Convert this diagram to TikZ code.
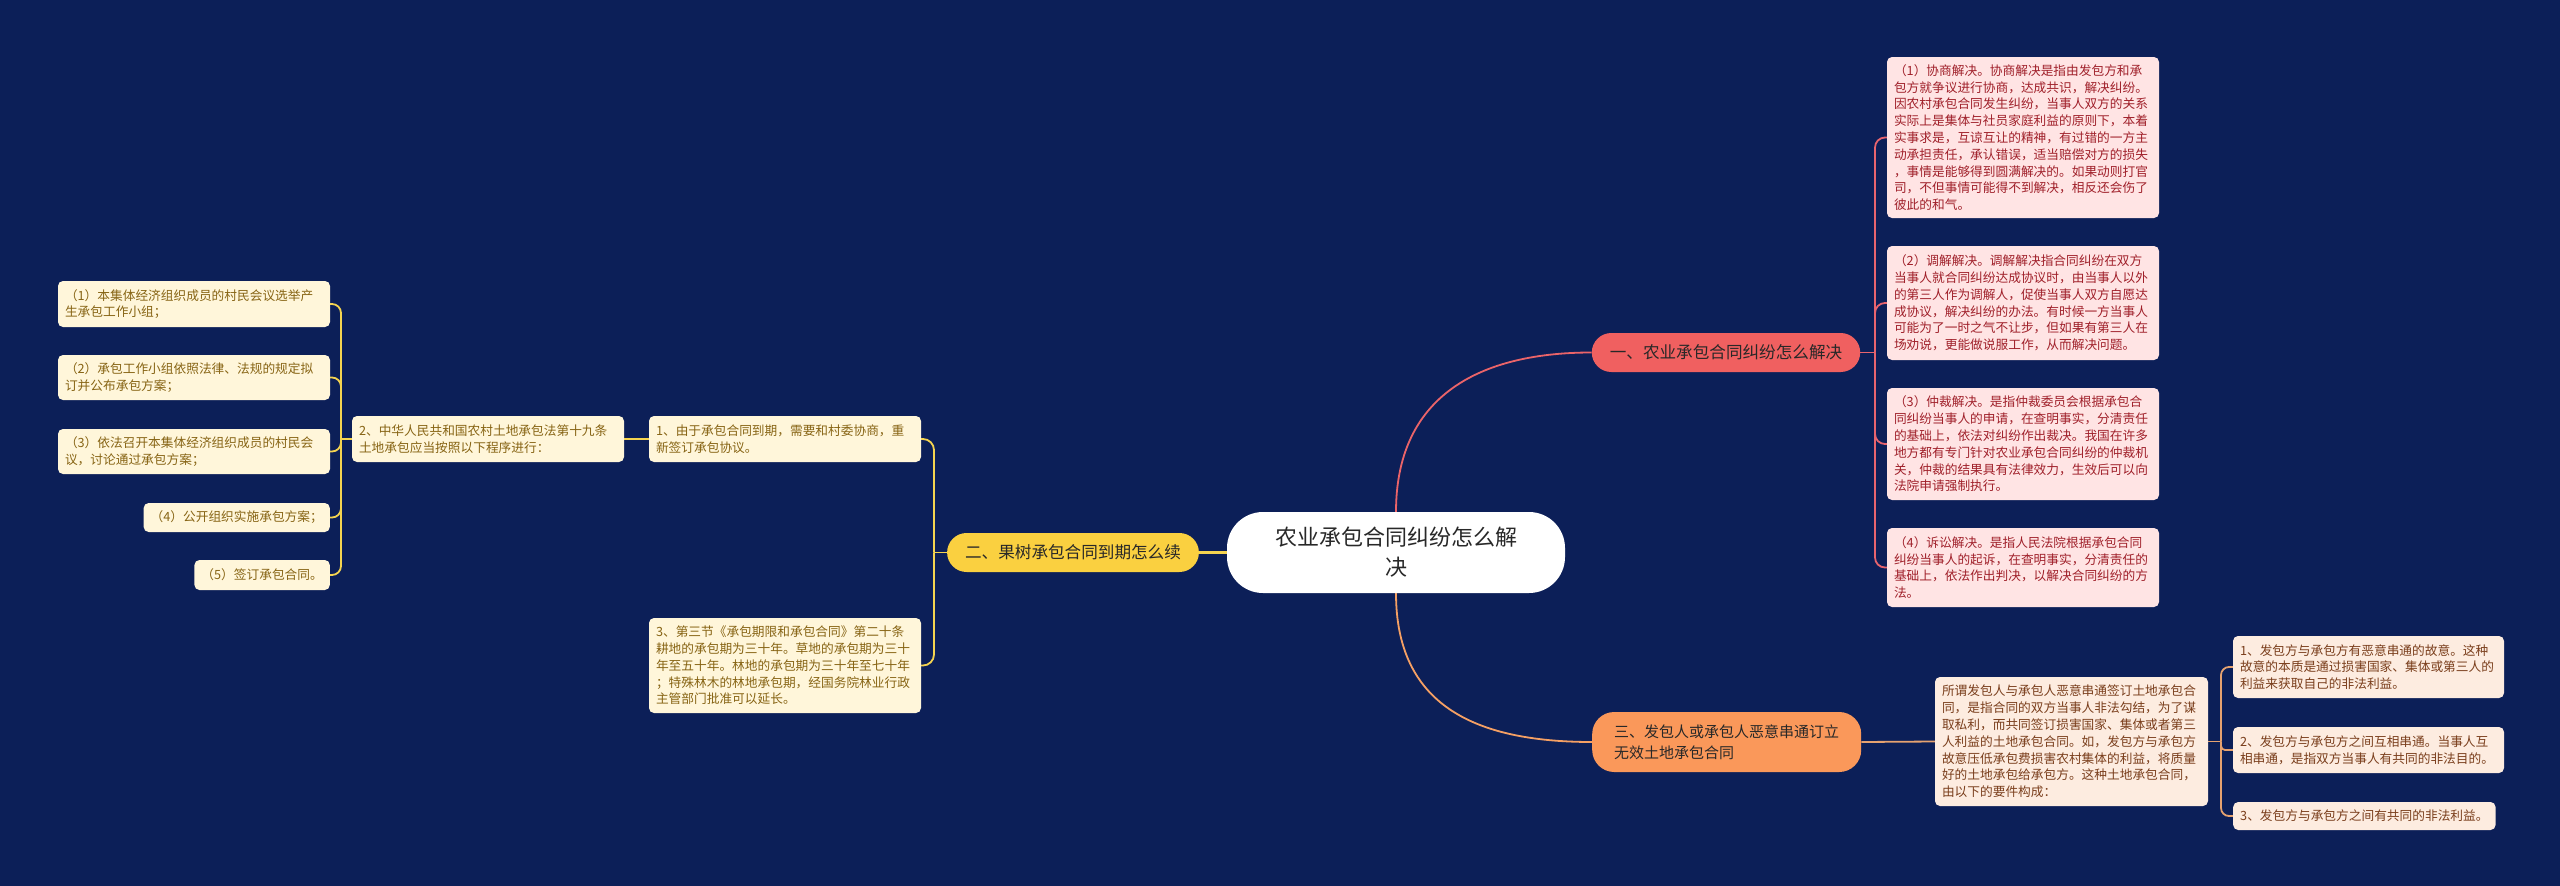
\documentclass[tikz,border=0pt]{standalone}
\usepackage{fontspec}
\setmainfont{Noto Sans CJK SC}
\usetikzlibrary{backgrounds}
\definecolor{bgc}{RGB}{12,31,88}
\definecolor{pinkf}{RGB}{255,228,228}
\definecolor{pinkt}{RGB}{160,32,42}
\definecolor{pinkl}{RGB}{232,100,110}
\definecolor{peachf}{RGB}{253,236,224}
\definecolor{peacht}{RGB}{122,62,28}
\definecolor{peachl}{RGB}{230,162,112}
\definecolor{creamf}{RGB}{255,246,218}
\definecolor{creamt}{RGB}{135,100,20}
\definecolor{creaml}{RGB}{245,212,80}
\definecolor{redf}{RGB}{240,96,96}
\definecolor{yelf}{RGB}{250,208,64}
\definecolor{orf}{RGB}{250,152,90}
\definecolor{darkt}{RGB}{40,40,40}
\newcommand\leaffont{\fontsize{12.7}{16.8}\selectfont}
\newcommand\branchfont{\fontsize{16.6}{21.5}\selectfont}
\newcommand\branchsmallfont{\fontsize{15}{21.5}\selectfont}
\newcommand\centerfont{\fontsize{22}{30}\selectfont}
\tikzset{
  leafbox/.style={rounded corners=5pt, inner xsep=7pt, inner ysep=0pt, align=left, font=\leaffont},
  pinkbox/.style={leafbox, fill=pinkf, text=pinkt, text width=258pt},
  peachbox/.style={leafbox, fill=peachf, text=peacht, text width=259pt},
  creambox/.style={leafbox, fill=creamf, text=creamt, text width=258pt},
  centerbox/.style={fill=white, text=darkt, rounded corners=36pt, minimum width=338pt, minimum height=81pt, align=center, font=\centerfont},
  branchbox/.style={text=darkt, inner xsep=18pt, inner ysep=0pt, font=\branchfont},
  pinkline/.style={draw=pinkl, line width=1.8pt},
  peachline/.style={draw=peachl, line width=1.8pt},
  creamline/.style={draw=creaml, line width=1.8pt},
}
\begin{document}
\begin{tikzpicture}[x=1pt,y=-1pt]
\useasboundingbox (0,0) rectangle (2560,886);
% center and branches
\node[centerbox] (c) at (1396,552.5) {农业承包合同纠纷怎么解\\决};
\node[branchbox, fill=redf, rounded corners=19.5pt, minimum height=39pt] (b1) at (1726,352.5) {一、农业承包合同纠纷怎么解决};
\node[branchbox, fill=yelf, rounded corners=19.5pt, minimum height=39pt] (b2) at (1073,552.5) {二、果树承包合同到期怎么续};
\node[branchbox, fill=orf, rounded corners=22pt, minimum height=60pt, align=left, anchor=west, inner xsep=22pt, font=\branchsmallfont] (b3) at (1592,742) {三、发包人或承包人恶意串通订立\\无效土地承包合同};
% pink boxes
\node[pinkbox, minimum height=161pt] (p1) at (2023,137.5) {（1）协商解决。协商解决是指由发包方和承\\包方就争议进行协商，达成共识，解决纠纷。\\因农村承包合同发生纠纷，当事人双方的关系\\实际上是集体与社员家庭利益的原则下，本着\\实事求是，互谅互让的精神，有过错的一方主\\动承担责任，承认错误，适当赔偿对方的损失\\，事情是能够得到圆满解决的。如果动则打官\\司，不但事情可能得不到解决，相反还会伤了\\彼此的和气。};
\node[pinkbox, minimum height=114pt] (p2) at (2023,303) {（2）调解解决。调解解决指合同纠纷在双方\\当事人就合同纠纷达成协议时，由当事人以外\\的第三人作为调解人，促使当事人双方自愿达\\成协议，解决纠纷的办法。有时候一方当事人\\可能为了一时之气不让步，但如果有第三人在\\场劝说，更能做说服工作，从而解决问题。};
\node[pinkbox, minimum height=112pt] (p3) at (2023,444) {（3）仲裁解决。是指仲裁委员会根据承包合\\同纠纷当事人的申请，在查明事实，分清责任\\的基础上，依法对纠纷作出裁决。我国在许多\\地方都有专门针对农业承包合同纠纷的仲裁机\\关，仲裁的结果具有法律效力，生效后可以向\\法院申请强制执行。};
\node[pinkbox, minimum height=79pt] (p4) at (2023,567.5) {（4）诉讼解决。是指人民法院根据承包合同\\纠纷当事人的起诉，在查明事实，分清责任的\\基础上，依法作出判决，以解决合同纠纷的方\\法。};
% peach boxes
\node[peachbox, minimum height=129pt] (m) at (2071.5,741.5) {所谓发包人与承包人恶意串通签订土地承包合\\同，是指合同的双方当事人非法勾结，为了谋\\取私利，而共同签订损害国家、集体或者第三\\人利益的土地承包合同。如，发包方与承包方\\故意压低承包费损害农村集体的利益，将质量\\好的土地承包给承包方。这种土地承包合同，\\由以下的要件构成：};
\node[peachbox, text width=257pt, minimum height=62pt] (q1) at (2368.5,667) {1、发包方与承包方有恶意串通的故意。这种\\故意的本质是通过损害国家、集体或第三人的\\利益来获取自己的非法利益。};
\node[peachbox, text width=257pt, minimum height=46pt] (q2) at (2368.5,750) {2、发包方与承包方之间互相串通。当事人互\\相串通，是指双方当事人有共同的非法目的。};
\node[leafbox, fill=peachf, text=peacht, minimum height=28pt, anchor=west] (q3) at (2233,816) {3、发包方与承包方之间有共同的非法利益。};
% cream boxes
\node[creambox, minimum height=46pt] (a) at (785,439) {1、由于承包合同到期，需要和村委协商，重\\新签订承包协议。};
\node[creambox, minimum height=95pt] (bb) at (785,665.5) {3、第三节《承包期限和承包合同》第二十条\\耕地的承包期为三十年。草地的承包期为三十\\年至五十年。林地的承包期为三十年至七十年\\；特殊林木的林地承包期，经国务院林业行政\\主管部门批准可以延长。};
\node[creambox, minimum height=46pt] (cc) at (488,439) {2、中华人民共和国农村土地承包法第十九条\\土地承包应当按照以下程序进行：};
\node[creambox, minimum height=46pt] (l1) at (194,304) {（1）本集体经济组织成员的村民会议选举产\\生承包工作小组；};
\node[creambox, minimum height=45pt] (l2) at (194,377.5) {（2）承包工作小组依照法律、法规的规定拟\\订并公布承包方案；};
\node[creambox, minimum height=45pt] (l3) at (194,451.5) {（3）依法召开本集体经济组织成员的村民会\\议，讨论通过承包方案；};
\node[leafbox, fill=creamf, text=creamt, minimum height=29pt, anchor=east] (l4) at (330,517.5) {（4）公开组织实施承包方案；};
\node[leafbox, fill=creamf, text=creamt, minimum height=30pt, anchor=east] (l5) at (330,575) {（5）签订承包合同。};
% junctions
\coordinate (j1) at (1875,352.5);
\coordinate (j2) at (934,552.5);
\coordinate (j3) at (2221,741.5);
\coordinate (j4) at (341,439);
\begin{scope}[on background layer]
\fill[bgc] (0,0) rectangle (2560,886);
\draw[draw={rgb,255:red,235;green,100;blue,105}, line width=1.8pt] (c.north) .. controls +(0,-110) and +(-120,0) .. (b1.west);
\draw[draw={rgb,255:red,245;green,160;blue,100}, line width=1.8pt] (c.south) .. controls +(0,110) and +(-120,0) .. (b3.west);
\draw[creamline, line width=3pt] (c.west) -- (b2.east);
\draw[pinkline] (b1.east) -- (j1);
\foreach \n in {p1,p2,p3,p4} \draw[pinkline, rounded corners=10pt] (j1) |- (\n.west);
\draw[peachline] (b3.east) -- (m.west);
\draw[peachline] (m.east) -- (j3);
\foreach \n in {q1,q3} \draw[peachline, rounded corners=8pt] (j3) |- (\n.west);
\draw[peachline, rounded corners=4pt] (j3) |- (q2.west);
\draw[creamline] (b2.west) -- (j2);
\foreach \n in {a,bb} \draw[creamline, rounded corners=11pt] (j2) |- (\n.east);
\draw[creamline] (a.west) -- (cc.east);
\draw[creamline] (cc.west) -- (j4);
\foreach \n in {l1,l2,l3,l4,l5} \draw[creamline, rounded corners=9pt] (j4) |- (\n.east);
\end{scope}
\end{tikzpicture}
\end{document}
